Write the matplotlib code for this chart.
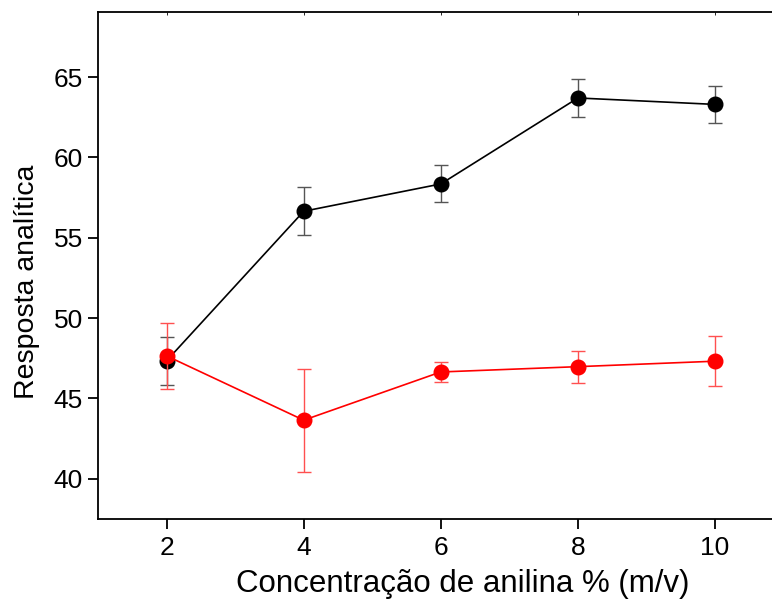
import matplotlib
matplotlib.use("Agg")
import matplotlib.pyplot as plt

plt.rcParams['font.family'] = ['Liberation Sans', 'DejaVu Sans']

# concentração de anilina (% m/v)
conc = [2, 4, 6, 8, 10]

# série preta
resp_preto = [47.35, 56.65, 58.35, 63.7, 63.3]
erro_preto = [1.5, 1.5, 1.15, 1.2, 1.15]

# série vermelha
resp_verm = [47.65, 43.65, 46.65, 46.98, 47.32]
erro_verm = [2.05, 3.2, 0.6, 1.0, 1.55]

fig = plt.figure(figsize=(7.72, 6.0), dpi=100)
# eixo se estende além da borda direita da figura
ax = fig.add_axes([0.127, 0.135, 0.888, 0.845])

ax.errorbar(conc, resp_preto, yerr=erro_preto, color='black', marker='o',
            markersize=10.5, linewidth=1.2, ecolor='#555555', elinewidth=1.0,
            capsize=5, capthick=1.0, zorder=2)
ax.errorbar(conc, resp_verm, yerr=erro_verm, color='red', marker='o',
            markersize=10.5, linewidth=1.2, ecolor='#ff5050', elinewidth=1.0,
            capsize=5, capthick=1.0, zorder=3)

ax.set_xlim(1, 11)
ax.set_ylim(37.5, 69.05)
ax.set_xticks([2, 4, 6, 8, 10])
ax.set_yticks([40, 45, 50, 55, 60, 65])

ax.spines['right'].set_visible(False)
for s in ('left', 'bottom', 'top'):
    ax.spines[s].set_linewidth(1.3)

ax.tick_params(axis='both', direction='out', length=7, width=1.3,
               labelsize=19)
ax.tick_params(axis='y', pad=4)
ax.tick_params(axis='x', pad=5)

# pequenos traços no eixo superior
sec = ax.secondary_xaxis('top')
sec.set_xticks([2, 4, 6, 8, 10])
sec.tick_params(direction='in', length=2, width=0.6, labeltop=False)
sec.spines['top'].set_visible(False)

ax.set_xlabel('Concentração de anilina % (m/v)', fontsize=22.5, labelpad=7)
ax.xaxis.label.set_x(0.532)
ax.set_ylabel('Resposta analítica', fontsize=20.5, labelpad=10)
ax.yaxis.label.set_y(0.467)

fig.savefig('out.png', dpi=100)
